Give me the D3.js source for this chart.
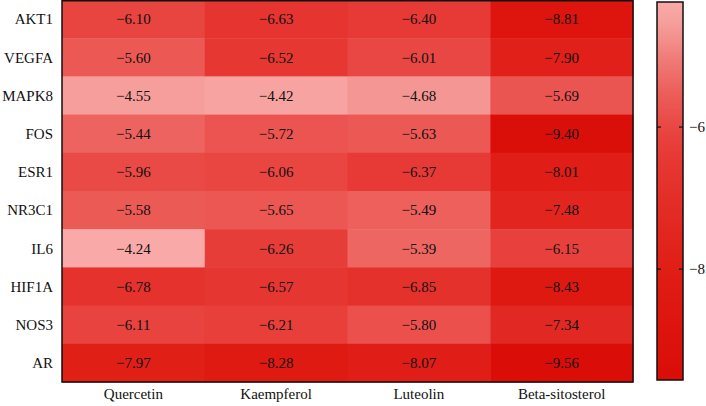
<!DOCTYPE html>
<html>
<head>
<meta charset="utf-8">
<script src="https://cdn.jsdelivr.net/npm/d3@7"></script>
<style>
  body { margin: 0; background: #fff; }
</style>
</head>
<body>
<div id="chart"></div>
<script>
const genes = ["AKT1", "VEGFA", "MAPK8", "FOS", "ESR1", "NR3C1", "IL6", "HIF1A", "NOS3", "AR"];
const compounds = ["Quercetin", "Kaempferol", "Luteolin", "Beta-sitosterol"];

// docking scores, one array per compound (rows follow genes)
const quercetin = [-6.10, -5.60, -4.55, -5.44, -5.96, -5.58, -4.24, -6.78, -6.11, -7.97];
const kaempferol = [-6.63, -6.52, -4.42, -5.72, -6.06, -5.65, -6.26, -6.57, -6.21, -8.28];
const luteolin = [-6.40, -6.01, -4.68, -5.63, -6.37, -5.49, -5.39, -6.85, -5.80, -8.07];
const betaSitosterol = [-8.81, -7.90, -5.69, -9.40, -8.01, -7.48, -6.15, -8.43, -7.34, -9.56];

const colorTicks = [-6, -8];

const series = [quercetin, kaempferol, luteolin, betaSitosterol];

const cells = [];
series.forEach((vals, c) => {
    vals.forEach((v, r) => {
        cells.push({gene: genes[r], compound: compounds[c], value: v});
    });
});

const W = 706, H = 406;
const mLeft = 62, mRight = 633, mTop = 0, mBottom = 382;
const FONT = "'Liberation Serif', 'DejaVu Serif', 'Times New Roman', Times, serif";

const svg = d3.select("#chart").append("svg")
    .attr("width", W)
    .attr("height", H)
    .attr("font-family", FONT)
    .style("font-family", FONT);

const x = d3.scaleBand().domain(compounds).range([mLeft, mRight]);
const y = d3.scaleBand().domain(genes).range([mTop, mBottom]);

const allVals = series.flat();
const vmin = d3.min(allVals), vmax = d3.max(allVals);

// colour ramp: pale pink (weak) to strong red
const color = d3.scaleLinear()
    .domain([vmax, -4.6, -5.0, -5.6, -6.3, -7.2, -8.3, vmin])
    .range(["#f9aaa8", "#f59c99", "#f07d7a", "#ec5955", "#e73b37", "#e32a24", "#df1a12", "#da0d08"])
    .clamp(true);

const fmt = v => (v < 0 ? "\u2212" : "") + Math.abs(v).toFixed(2);

svg.append("g")
    .selectAll("rect")
    .data(cells)
    .enter()
    .append("rect")
    .attr("x", d => x(d.compound))
    .attr("y", d => y(d.gene))
    .attr("width", x.bandwidth() + 0.5)
    .attr("height", y.bandwidth() + 0.5)
    .attr("fill", d => color(d.value));

svg.append("g")
    .selectAll("text")
    .data(cells)
    .enter()
    .append("text")
    .attr("x", d => x(d.compound) + x.bandwidth() / 2)
    .attr("y", d => y(d.gene) + y.bandwidth() / 2)
    .attr("dy", "0.35em")
    .attr("text-anchor", "middle")
    .style("font-size", "15px")
    .style("fill", "#111")
    .text(d => fmt(d.value));

// border
svg.append("rect")
    .attr("x", mLeft)
    .attr("y", mTop + 0.75)
    .attr("width", mRight - mLeft)
    .attr("height", mBottom - mTop - 0.75)
    .attr("fill", "none")
    .attr("stroke", "#111")
    .attr("stroke-width", 1.5);

// row labels
svg.append("g")
    .selectAll("text")
    .data(genes)
    .enter()
    .append("text")
    .attr("x", mLeft - 9)
    .attr("y", d => y(d) + y.bandwidth() / 2)
    .attr("dy", "0.35em")
    .attr("text-anchor", "end")
    .style("font-size", "15px")
    .style("fill", "#111")
    .text(d => d);

// column labels
svg.append("g")
    .selectAll("text")
    .data(compounds)
    .enter()
    .append("text")
    .attr("x", d => x(d) + x.bandwidth() / 2)
    .attr("y", 399)
    .attr("text-anchor", "middle")
    .style("font-size", "15px")
    .style("fill", "#111")
    .text(d => d);

// colour bar
const cbX = 657, cbW = 26, cbTop = 2, cbBottom = 380;
const cy = d3.scaleLinear().domain([vmax, vmin]).range([cbTop, cbBottom]);

const defs = svg.append("defs");
const grad = defs.append("linearGradient")
    .attr("id", "cbar")
    .attr("x1", 0).attr("y1", 0)
    .attr("x2", 0).attr("y2", 1);

d3.range(0, 1.0001, 0.05).forEach(t => {
    grad.append("stop")
        .attr("offset", t)
        .attr("stop-color", color(vmax + (vmin - vmax) * t));
});

svg.append("rect")
    .attr("x", cbX)
    .attr("y", cbTop)
    .attr("width", cbW)
    .attr("height", cbBottom - cbTop)
    .attr("fill", "url(#cbar)")
    .attr("stroke", "#111")
    .attr("stroke-width", 1.5);

const cbTicks = svg.append("g")
    .selectAll("g")
    .data(colorTicks)
    .enter()
    .append("g")
    .attr("transform", d => "translate(0," + cy(d) + ")");

cbTicks.append("line")
    .attr("x1", cbX).attr("x2", cbX + 4)
    .attr("stroke", "#111").attr("stroke-width", 1.2);
cbTicks.append("line")
    .attr("x1", cbX + cbW - 4).attr("x2", cbX + cbW)
    .attr("stroke", "#111").attr("stroke-width", 1.2);
cbTicks.append("text")
    .attr("x", cbX + cbW + 6)
    .attr("dy", "0.35em")
    .style("font-size", "15px")
    .style("fill", "#111")
    .text(d => "\u2212" + Math.abs(d));
</script>
</body>
</html>
